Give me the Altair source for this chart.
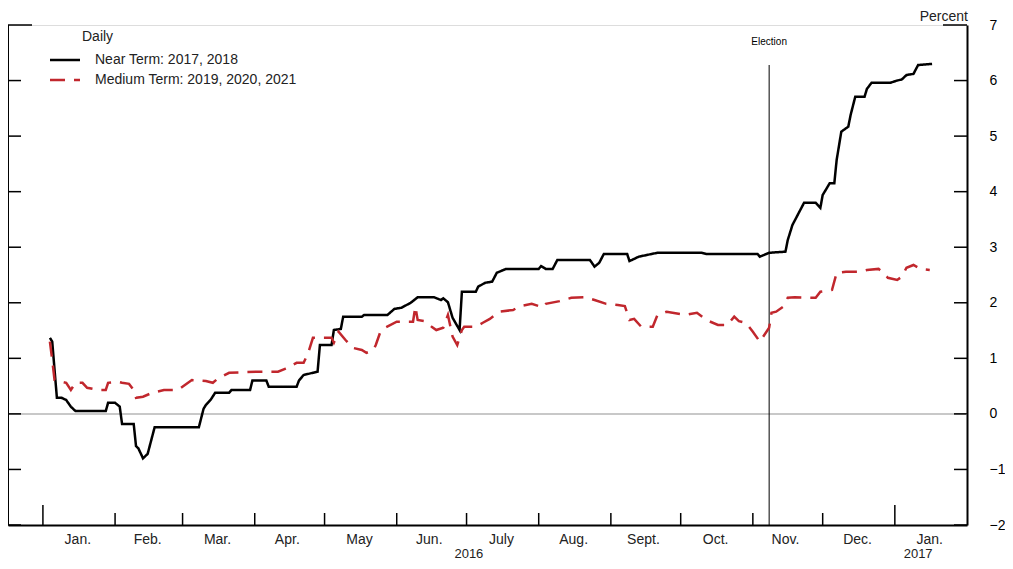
import altair as alt
import pandas as pd

# ---------------- data ----------------
near_dates = [
    "2016-01-04", "2016-01-05", "2016-01-07", "2016-01-09", "2016-01-11", "2016-01-13",
    "2016-01-15", "2016-01-28", "2016-01-29", "2016-02-01", "2016-02-03", "2016-02-04",
    "2016-02-09", "2016-02-10", "2016-02-11", "2016-02-13", "2016-02-15", "2016-02-18",
    "2016-03-08", "2016-03-10", "2016-03-11", "2016-03-13", "2016-03-15", "2016-03-21",
    "2016-03-22", "2016-03-30", "2016-03-31", "2016-04-06", "2016-04-07", "2016-04-19",
    "2016-04-20", "2016-04-22", "2016-04-26", "2016-04-28", "2016-04-29", "2016-05-04",
    "2016-05-05", "2016-05-08", "2016-05-09", "2016-05-17", "2016-05-18", "2016-05-28",
    "2016-05-31", "2016-06-03", "2016-06-07", "2016-06-10", "2016-06-17", "2016-06-20",
    "2016-06-21", "2016-06-23", "2016-06-25", "2016-06-28", "2016-06-29", "2016-07-05",
    "2016-07-06", "2016-07-09", "2016-07-12", "2016-07-14", "2016-07-18", "2016-08-01",
    "2016-08-02", "2016-08-04", "2016-08-07", "2016-08-09", "2016-08-23", "2016-08-25",
    "2016-08-27", "2016-08-29", "2016-09-08", "2016-09-09", "2016-09-13", "2016-09-21",
    "2016-10-10", "2016-10-12", "2016-11-03", "2016-11-04", "2016-11-08", "2016-11-15",
    "2016-11-16", "2016-11-18", "2016-11-21", "2016-11-23", "2016-11-28", "2016-11-30",
    "2016-12-01", "2016-12-04", "2016-12-06", "2016-12-07", "2016-12-09", "2016-12-12",
    "2016-12-13", "2016-12-15", "2016-12-19", "2016-12-20", "2016-12-22", "2016-12-30",
    "2017-01-02", "2017-01-04", "2017-01-06", "2017-01-09", "2017-01-11", "2017-01-17",
]
near_values = [
    1.37, 1.30, 0.29, 0.29, 0.25, 0.13,
    0.05, 0.05, 0.20, 0.20, 0.13, -0.18,
    -0.18, -0.58, -0.62, -0.80, -0.72, -0.24,
    -0.24, 0.09, 0.16, 0.25, 0.38, 0.38,
    0.43, 0.43, 0.60, 0.60, 0.49, 0.49,
    0.60, 0.70, 0.74, 0.76, 1.24, 1.24,
    1.51, 1.53, 1.75, 1.75, 1.78, 1.78,
    1.89, 1.91, 2.00, 2.10, 2.10, 2.05,
    2.08, 2.01, 1.73, 1.51, 2.20, 2.20,
    2.29, 2.36, 2.38, 2.54, 2.61, 2.61,
    2.66, 2.61, 2.61, 2.77, 2.77, 2.65,
    2.72, 2.88, 2.88, 2.75, 2.83, 2.90,
    2.90, 2.88, 2.88, 2.83, 2.90, 2.92,
    3.13, 3.40, 3.64, 3.80, 3.80, 3.71,
    3.94, 4.15, 4.15, 4.57, 5.08, 5.17,
    5.38, 5.71, 5.71, 5.85, 5.96, 5.96,
    6.00, 6.02, 6.10, 6.12, 6.28, 6.30,
]

med_dates = [
    "2016-01-04", "2016-01-05", "2016-01-06", "2016-01-09", "2016-01-11", "2016-01-13",
    "2016-01-15", "2016-01-18", "2016-01-20", "2016-01-25", "2016-01-28", "2016-01-29",
    "2016-02-02", "2016-02-04", "2016-02-07", "2016-02-09", "2016-02-10", "2016-02-13",
    "2016-02-17", "2016-02-22", "2016-02-28", "2016-03-02", "2016-03-05", "2016-03-11",
    "2016-03-14", "2016-03-16", "2016-03-21", "2016-04-03", "2016-04-11", "2016-04-14",
    "2016-04-19", "2016-04-22", "2016-04-24", "2016-04-26", "2016-05-04", "2016-05-05",
    "2016-05-07", "2016-05-10", "2016-05-13", "2016-05-17", "2016-05-19", "2016-05-22",
    "2016-05-23", "2016-05-25", "2016-05-27", "2016-06-01", "2016-06-08", "2016-06-09",
    "2016-06-10", "2016-06-13", "2016-06-16", "2016-06-18", "2016-06-21", "2016-06-23",
    "2016-06-25", "2016-06-27", "2016-06-29", "2016-06-30", "2016-07-05", "2016-07-08",
    "2016-07-11", "2016-07-15", "2016-07-21", "2016-07-24", "2016-07-29", "2016-08-01",
    "2016-08-02", "2016-08-04", "2016-08-10", "2016-08-15", "2016-08-21", "2016-08-25",
    "2016-08-30", "2016-09-04", "2016-09-07", "2016-09-09", "2016-09-11", "2016-09-14",
    "2016-09-19", "2016-09-21", "2016-09-25", "2016-10-03", "2016-10-08", "2016-10-12",
    "2016-10-17", "2016-10-21", "2016-10-24", "2016-10-26", "2016-10-29", "2016-11-01",
    "2016-11-04", "2016-11-08", "2016-11-09", "2016-11-11", "2016-11-14", "2016-11-16",
    "2016-11-19", "2016-11-28", "2016-11-30", "2016-12-05", "2016-12-07", "2016-12-11",
    "2016-12-17", "2016-12-20", "2016-12-25", "2016-12-27", "2016-12-29", "2017-01-02",
    "2017-01-04", "2017-01-06", "2017-01-09", "2017-01-12", "2017-01-16",
]
med_values = [
    1.30, 0.97, 0.61, 0.58, 0.56, 0.43,
    0.56, 0.56, 0.47, 0.43, 0.43, 0.56,
    0.58, 0.56, 0.54, 0.43, 0.29, 0.31,
    0.38, 0.43, 0.43, 0.52, 0.61, 0.59,
    0.56, 0.63, 0.74, 0.76, 0.76, 0.81,
    0.92, 0.92, 1.10, 1.37, 1.37, 1.28,
    1.48, 1.33, 1.19, 1.15, 1.10, 1.15,
    1.24, 1.48, 1.55, 1.66, 1.66, 1.93,
    1.69, 1.67, 1.57, 1.51, 1.55, 1.78,
    1.39, 1.24, 1.51, 1.57, 1.57, 1.64,
    1.71, 1.84, 1.87, 1.94, 1.98, 1.94,
    1.91, 1.98, 2.03, 2.09, 2.10, 2.05,
    1.98, 1.96, 1.94, 1.69, 1.71, 1.57,
    1.57, 1.78, 1.84, 1.78, 1.82, 1.69,
    1.60, 1.60, 1.75, 1.67, 1.64, 1.48,
    1.30, 1.55, 1.82, 1.84, 1.93, 2.09,
    2.10, 2.09, 2.20, 2.23, 2.54, 2.56,
    2.56, 2.59, 2.61, 2.54, 2.45, 2.41,
    2.47, 2.63, 2.68, 2.61, 2.59,
]

series_names = ["Near Term: 2017, 2018", "Medium Term: 2019, 2020, 2021"]
series_colors = ["#000000", "#c1272d"]

y_ticks = [-2, -1, 0, 1, 2, 3, 4, 5, 6, 7]
month_starts = ["2016-01-01", "2016-02-01", "2016-03-01", "2016-04-01", "2016-05-01",
                "2016-06-01", "2016-07-01", "2016-08-01", "2016-09-01", "2016-10-01",
                "2016-11-01", "2016-12-01", "2017-01-01"]
month_labels = ["Jan.", "Feb.", "Mar.", "Apr.", "May", "Jun.", "July", "Aug.",
                "Sept.", "Oct.", "Nov.", "Dec.", "Jan."]
month_mid = ["2016-01-16", "2016-02-15", "2016-03-16", "2016-04-15", "2016-05-16",
             "2016-06-15", "2016-07-16", "2016-08-16", "2016-09-15", "2016-10-16",
             "2016-11-15", "2016-12-16", "2017-01-16"]
year_labels = ["2016", "2017"]
year_pos = ["2016-07-02", "2017-01-11"]
election_date = ["2016-11-08"]

# ---------------- layout ----------------
W, H = 959, 500
FONT = "Liberation Sans"

df = pd.concat([
    pd.DataFrame({"date": near_dates, "value": near_values, "series": series_names[0]}),
    pd.DataFrame({"date": med_dates, "value": med_values, "series": series_names[1]}),
])

x_scale = alt.Scale(type="utc",
                    domain=[alt.DateTime(year=2015, month=12, date=17, utc=True),
                            alt.DateTime(year=2017, month=2, date=1, utc=True)])
y_scale = alt.Scale(domain=[-2, 7], nice=False, zero=False)

X = alt.X("date:T", scale=x_scale,
          axis=alt.Axis(orient="bottom", labels=False, ticks=False, grid=False,
                        domain=True, domainColor="black", domainWidth=2, title=None))
Y = alt.Y("value:Q", scale=y_scale,
          axis=alt.Axis(orient="right", values=y_ticks, grid=False, ticks=False, tickSize=0,
                        domain=True, domainColor="black", domainWidth=2,
                        labelPadding=22, labelAlign="left", labelFontSize=14,
                        labelFont=FONT, labelColor="black", title=None))

one = pd.DataFrame({"a": [0]})

# zero line
zero = alt.Chart(pd.DataFrame({"v": [0]})).mark_rule(color="#c8c8c8", strokeWidth=2).encode(
    y=alt.Y("v:Q", scale=y_scale, axis=None), x=alt.value(0), x2=alt.value(W))

# left frame line
left_frame = alt.Chart(one).mark_rule(color="black", strokeWidth=2).encode(
    x=alt.value(0), y=alt.value(0), y2=alt.value(H))

# y ticks (inward, both sides)
ytk = pd.DataFrame({"v": y_ticks, "len": [24 if v == 7 else 13 for v in y_ticks]})
ytick_r = alt.Chart(ytk).mark_rule(color="black", strokeWidth=1.5).encode(
    y=alt.Y("v:Q", scale=y_scale, axis=None),
    x=alt.X("xs:Q", scale=alt.Scale(domain=[0, W], range=[0, W]), axis=None),
    x2="xe:Q").transform_calculate(xs=f"{W} - datum.len", xe=f"{W}")
ytick_l = alt.Chart(ytk).mark_rule(color="black", strokeWidth=1.5).encode(
    y=alt.Y("v:Q", scale=y_scale, axis=None),
    x=alt.X("xs:Q", scale=alt.Scale(domain=[0, W], range=[0, W]), axis=None),
    x2="xe:Q").transform_calculate(xs="0", xe="datum.len")

# x ticks (inward)
xtk = pd.DataFrame({"d": month_starts,
                    "len": [20 if m.endswith("-01-01") else 12 for m in month_starts]})
xtick = alt.Chart(xtk).mark_rule(color="black", strokeWidth=1.5).encode(
    x=alt.X("d:T", scale=x_scale, axis=None),
    y=alt.Y("ys:Q", scale=alt.Scale(domain=[0, H], range=[H, 0]), axis=None),
    y2="ye:Q").transform_calculate(ys="datum.len", ye="0")

# month and year labels
mlab = alt.Chart(pd.DataFrame({"d": month_mid, "t": month_labels})).mark_text(
    fontSize=14, font=FONT, color="#222222", baseline="middle").encode(
    x=alt.X("d:T", scale=x_scale, axis=None), y=alt.value(H + 15), text="t:N")
ylab = alt.Chart(pd.DataFrame({"d": year_pos, "t": year_labels})).mark_text(
    fontSize=13, font=FONT, color="#222222", baseline="middle").encode(
    x=alt.X("d:T", scale=x_scale, axis=None), y=alt.value(H + 29), text="t:N")

# election marker
elec = alt.Chart(pd.DataFrame({"d": election_date})).mark_rule(color="black", strokeWidth=1).encode(
    x=alt.X("d:T", scale=x_scale, axis=None), y=alt.value(40), y2=alt.value(H))
elec_t = alt.Chart(pd.DataFrame({"d": election_date, "t": ["Election"]})).mark_text(
    fontSize=10, font=FONT, color="black", baseline="middle").encode(
    x=alt.X("d:T", scale=x_scale, axis=None), y=alt.value(17), text="t:N")

# percent label
pct = alt.Chart(pd.DataFrame({"t": ["Percent"]})).mark_text(
    fontSize=14, font=FONT, color="#222222", align="right", baseline="middle").encode(
    x=alt.value(W + 1), y=alt.value(-8), text="t:N")

# series lines
lines = alt.Chart(df).mark_line(strokeWidth=2.5, interpolate="linear").encode(
    x=X, y=Y,
    color=alt.Color("series:N", scale=alt.Scale(domain=series_names, range=series_colors), legend=None),
    strokeDash=alt.StrokeDash("series:N",
                              scale=alt.Scale(domain=series_names, range=[[1, 0], [15, 9]]),
                              legend=None),
    detail="series:N")

# manual legend
leg_title = alt.Chart(pd.DataFrame({"t": ["Daily"]})).mark_text(
    fontSize=14, font=FONT, color="#222222", align="left", baseline="middle").encode(
    x=alt.value(74), y=alt.value(12), text="t:N")
leg_text = alt.Chart(pd.DataFrame({"t": series_names, "yy": [35, 55]})).mark_text(
    fontSize=14, font=FONT, color="#222222", align="left", baseline="middle").encode(
    x=alt.value(87),
    y=alt.Y("yy:Q", scale=alt.Scale(domain=[0, H], range=[0, H]), axis=None),
    text="t:N")
leg_near = alt.Chart(one).mark_rule(color=series_colors[0], strokeWidth=2.5).encode(
    x=alt.value(42), x2=alt.value(72), y=alt.value(35))
leg_med = alt.Chart(one).mark_rule(color=series_colors[1], strokeWidth=2.5,
                                   strokeDash=[15, 9]).encode(
    x=alt.value(42), x2=alt.value(72), y=alt.value(55))

chart = alt.layer(
    zero, left_frame, ytick_r, ytick_l, xtick, elec, elec_t, mlab, ylab, pct,
    lines, leg_title, leg_text, leg_near, leg_med
).resolve_scale(
    x="shared", y="independent"
).properties(
    width=W, height=H,
    autosize=alt.AutoSizeParams(type="none"),
    padding={"left": 0, "top": 17, "right": 38, "bottom": 36},
).configure_view(stroke=None).configure(background="white")

chart.save("out.html", embed_options={"renderer": "svg", "actions": False})
